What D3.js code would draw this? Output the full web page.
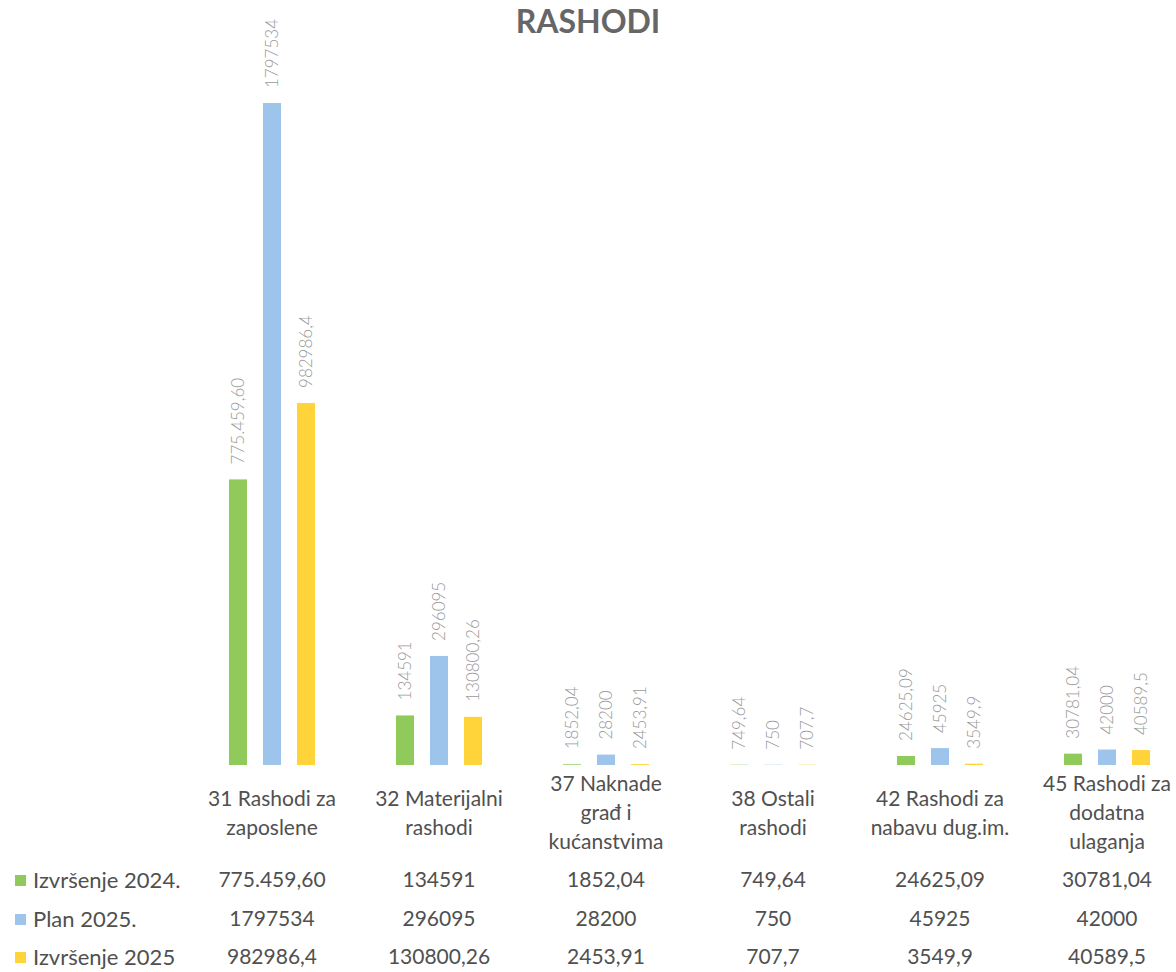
<!DOCTYPE html>
<html>
<head>
<meta charset="utf-8">
<script src="https://cdn.jsdelivr.net/npm/d3@7/dist/d3.min.js"></script>
<style>
  body { margin: 0; background: #fff; }
  svg { display: block; font-family: Calibri, Carlito, Lato, sans-serif; }
</style>
</head>
<body>
<div id="chart"></div>
<script>
// categories (two or three lines each, as in the table header)
var categories = [
    ["31 Rashodi za", "zaposlene"],
    ["32 Materijalni", "rashodi"],
    ["37 Naknade", "građ i", "kućanstvima"],
    ["38 Ostali", "rashodi"],
    ["42 Rashodi za", "nabavu dug.im."],
    ["45 Rashodi za", "dodatna", "ulaganja"]
]
var seriesNames = ["Izvršenje 2024.", "Plan 2025.", "Izvršenje 2025"]
var seriesColors = ["#8fca5a", "#9dc5ec", "#ffd43b"]

var izvrsenje2024 = [775459.60, 134591, 1852.04, 749.64, 24625.09, 30781.04]
var plan2025 = [1797534, 296095, 28200, 750, 45925, 42000]
var izvrsenje2025 = [982986.4, 130800.26, 2453.91, 707.7, 3549.9, 40589.5]

// the labels as they are printed on the sheet
var izvrsenje2024Text = ["775.459,60", "134591", "1852,04", "749,64", "24625,09", "30781,04"]
var plan2025Text = ["1797534", "296095", "28200", "750", "45925", "42000"]
var izvrsenje2025Text = ["982986,4", "130800,26", "2453,91", "707,7", "3549,9", "40589,5"]

var seriesValues = [izvrsenje2024, plan2025, izvrsenje2025]
var seriesText = [izvrsenje2024Text, plan2025Text, izvrsenje2025Text]

var width = 1176
var height = 972

var svg = d3.select('#chart')
    .append('svg')
    .attr('width', width)
    .attr('height', height)

var catKeys = d3.range(categories.length)

var x0 = d3.scaleBand()
    .domain(catKeys)
    .range([188.5, 1190.5])

var x1 = d3.scaleBand()
    .domain(d3.range(seriesNames.length))
    .range([-51, 51])
    .paddingInner(0.47)
    .paddingOuter(0.235)

var y = d3.scaleLinear()
    .domain([0, d3.max(plan2025)])
    .range([765, 103])

function catCenter(i) {
    return x0(i) + x0.bandwidth() / 2
}

// title
svg.append('text')
    .attr('x', width / 2)
    .attr('y', 33)
    .attr('text-anchor', 'middle')
    .style('font-family', 'Lato, sans-serif')
    .style('font-weight', 'bold')
    .style('font-size', '32px')
    .style('fill', '#666')
    .text('RASHODI')

// flatten into one row per bar
var bars = []
seriesValues.forEach(function(vals, s) {
    vals.forEach(function(v, i) {
        bars.push({ s: s, i: i, value: v, label: seriesText[s][i] })
    })
})

var barG = svg.append('g')

barG.selectAll('rect')
    .data(bars)
    .enter()
    .append('rect')
    .attr('x', function(d) { return catCenter(d.i) + x1(d.s) })
    .attr('y', function(d) { return y(d.value) })
    .attr('width', x1.bandwidth())
    .attr('height', function(d) { return y(0) - y(d.value) })
    .style('fill', function(d) { return seriesColors[d.s] })

barG.selectAll('text.val')
    .data(bars)
    .enter()
    .append('text')
    .attr('class', 'val')
    .attr('transform', function(d) {
        var cx = catCenter(d.i) + x1(d.s) + x1.bandwidth() / 2
        return 'translate(' + cx + ',' + (y(d.value) - 15) + ') rotate(-90)'
    })
    .attr('dy', '0.35em')
    .style('font-family', 'Lato, sans-serif')
    .style('font-weight', 300)
    .style('font-size', '17px')
    .style('fill', '#9a9a9a')
    .text(function(d) { return d.label })

// table header: category names
var lineH = 29
var headG = svg.append('g')
    .style('font-family', 'Lato, sans-serif')
    .style('font-size', '21px')
    .style('fill', '#505050')

categories.forEach(function(lines, i) {
    var top = 813 - (lines.length - 1) * lineH / 2
    var t = headG.append('text')
        .attr('text-anchor', 'middle')
        .attr('x', catCenter(i))
    lines.forEach(function(line, k) {
        t.append('tspan')
            .attr('x', catCenter(i))
            .attr('y', top + k * lineH)
            .attr('dy', '0.35em')
            .text(line)
    })
})

// table rows
var rowY = [880, 919, 957]
var rowG = svg.append('g')
    .style('font-family', 'Lato, sans-serif')
    .style('font-size', '21px')
    .style('fill', '#505050')

seriesNames.forEach(function(name, s) {
    rowG.append('rect')
        .attr('x', 15)
        .attr('y', rowY[s] - 5)
        .attr('width', 11)
        .attr('height', 11)
        .style('fill', seriesColors[s])
    rowG.append('text')
        .attr('x', 33)
        .attr('y', rowY[s])
        .attr('dy', '0.35em')
        .style('font-size', '22px')
        .text(name)
    seriesText[s].forEach(function(txt, i) {
        rowG.append('text')
            .attr('x', catCenter(i))
            .attr('y', rowY[s])
            .attr('dy', '0.35em')
            .attr('text-anchor', 'middle')
            .text(txt)
    })
})
</script>
</body>
</html>
